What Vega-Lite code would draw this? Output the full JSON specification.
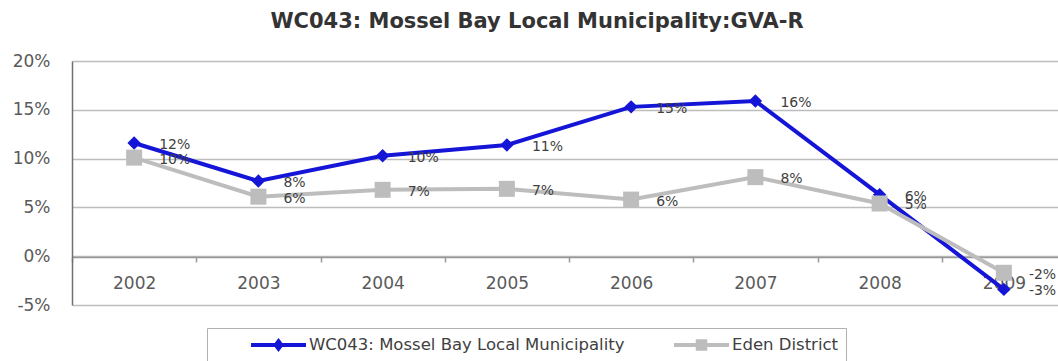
{
  "$schema": "https://vega.github.io/schema/vega-lite/v6.json",
  "width": 986,
  "height": 244,
  "autosize": {"type": "none"},
  "padding": {"left": 72, "top": 61, "right": 0, "bottom": 56},
  "background": "white",
  "title": {
    "text": "WC043: Mossel Bay Local Municipality:GVA-R",
    "font": "DejaVu Sans",
    "fontSize": 21,
    "fontWeight": "bold",
    "color": "#333333",
    "anchor": "middle",
    "baseline": "alphabetic",
    "offset": 3,
    "dx": -28
  },
  "config": {
    "locale": {
      "number": {"decimal": ".", "thousands": ",", "grouping": [3], "currency": ["$", ""], "minus": "-"}
    },
    "view": {"stroke": null},
    "axis": {"labelFont": "DejaVu Sans", "labelFontSize": 17, "labelColor": "#5a5a5a"}
  },
  "data": {
    "values": [
      {"year": "2002", "series": "WC043: Mossel Bay Local Municipality", "value": 0.116},
      {"year": "2003", "series": "WC043: Mossel Bay Local Municipality", "value": 0.077},
      {"year": "2004", "series": "WC043: Mossel Bay Local Municipality", "value": 0.103},
      {"year": "2005", "series": "WC043: Mossel Bay Local Municipality", "value": 0.114},
      {"year": "2006", "series": "WC043: Mossel Bay Local Municipality", "value": 0.153},
      {"year": "2007", "series": "WC043: Mossel Bay Local Municipality", "value": 0.159},
      {"year": "2008", "series": "WC043: Mossel Bay Local Municipality", "value": 0.063},
      {"year": "2009", "series": "WC043: Mossel Bay Local Municipality", "value": -0.034},
      {"year": "2002", "series": "Eden District", "value": 0.101},
      {"year": "2003", "series": "Eden District", "value": 0.061},
      {"year": "2004", "series": "Eden District", "value": 0.068},
      {"year": "2005", "series": "Eden District", "value": 0.069},
      {"year": "2006", "series": "Eden District", "value": 0.058},
      {"year": "2007", "series": "Eden District", "value": 0.081},
      {"year": "2008", "series": "Eden District", "value": 0.054},
      {"year": "2009", "series": "Eden District", "value": -0.017}
    ]
  },
  "encoding": {
    "x": {
      "field": "year",
      "type": "ordinal",
      "sort": null,
      "scale": {"type": "band", "range": [0, 994], "paddingInner": 0, "paddingOuter": 0},
      "axis": {
        "title": null,
        "orient": "bottom",
        "offset": -48,
        "labelAngle": 0,
        "tickBand": "extent",
        "tickSize": 5,
        "tickColor": "#999999",
        "tickWidth": 1.5,
        "domainColor": "#999999",
        "domainWidth": 1.5,
        "labelPadding": 13,
        "grid": false,
        "zindex": 0
      }
    },
    "y": {
      "field": "value",
      "type": "quantitative",
      "scale": {"domain": [-0.05, 0.2], "nice": false, "zero": false},
      "axis": {
        "title": null,
        "format": ".0%",
        "values": [-0.05, 0, 0.05, 0.1, 0.15, 0.2],
        "ticks": false,
        "labelPadding": 22,
        "domainColor": "#707070",
        "domainWidth": 1.5,
        "gridColor": "#bdbdbd",
        "gridWidth": 1.5,
        "zindex": 0
      }
    },
    "color": {
      "field": "series",
      "type": "nominal",
      "sort": null,
      "scale": {
        "domain": ["WC043: Mossel Bay Local Municipality", "Eden District"],
        "range": ["#1515d8", "#bdbdbd"]
      },
      "legend": {
        "title": null,
        "orient": "none",
        "legendX": 135,
        "legendY": 267,
        "direction": "horizontal",
        "padding": 7,
        "strokeColor": "#b0b0b0",
        "fillColor": "white",
        "clipHeight": 20,
        "symbolSize": 15625,
        "symbolType": "M-0.44,0H0.44",
        "symbolStrokeWidth": 4,
        "labelOffset": -34,
        "labelLimit": 500,
        "columnPadding": 12,
        "labelFont": "DejaVu Sans",
        "labelFontSize": 16.5,
        "labelColor": "#404040",
        "encode": {
          "symbols": {
            "update": {
              "shape": [
                {"test": "datum.value === 'Eden District'", "value": "M-0.44,0H0.44M-0.06,-0.06H0.06V0.06H-0.06Z"},
                {"value": "M-0.44,0H0.44M0,-0.06L0.045,0L0,0.06L-0.045,0Z"}
              ]
            }
          }
        }
      }
    }
  },
  "layer": [
    {
      "transform": [{"filter": "datum.series === 'WC043: Mossel Bay Local Municipality'"}],
      "mark": {"type": "line", "strokeWidth": 4}
    },
    {
      "transform": [{"filter": "datum.series === 'Eden District'"}],
      "mark": {"type": "line", "strokeWidth": 4}
    },
    {
      "transform": [{"filter": "datum.series === 'WC043: Mossel Bay Local Municipality'"}],
      "mark": {"type": "point", "shape": "diamond", "filled": true, "size": 180, "opacity": 1}
    },
    {
      "transform": [{"filter": "datum.series === 'Eden District'"}],
      "mark": {"type": "point", "shape": "square", "filled": true, "size": 256, "opacity": 1}
    },
    {
      "mark": {
        "type": "text",
        "align": "left",
        "baseline": "middle",
        "dx": 25,
        "dy": 2,
        "font": "DejaVu Sans",
        "fontSize": 14,
        "color": "#404040"
      },
      "encoding": {
        "text": {"field": "value", "type": "quantitative", "format": ".0%"},
        "color": {"value": "#404040"}
      }
    }
  ]
}
